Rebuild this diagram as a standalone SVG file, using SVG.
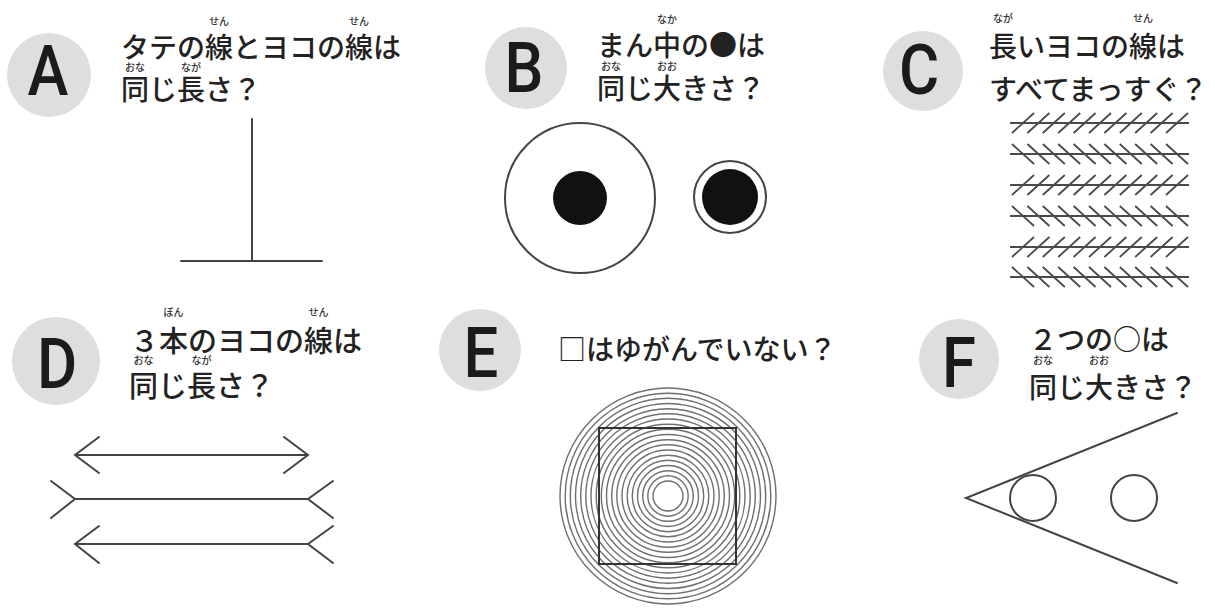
<svg xmlns="http://www.w3.org/2000/svg" width="1215" height="608" viewBox="0 0 1215 608">
<style>
.badge{fill:#dedede}
.letter{font-family:Roboto,"Liberation Sans",sans-serif;font-weight:500;font-size:70px;fill:#1b1b1b;text-anchor:middle}
.q{font-family:"Noto Sans CJK JP",sans-serif;font-weight:500;font-size:28px;fill:#222}
.ruby{font-family:"Noto Sans CJK JP",sans-serif;font-weight:500;font-size:10px;fill:#333;text-anchor:middle}
.ln{stroke:#444;stroke-width:2;fill:none;stroke-linecap:round}
.hz{stroke:#4a4a4a;stroke-width:2;fill:none}
.ht{stroke:#4a4a4a;stroke-width:1.8;fill:none}
.ring{stroke:#6f6f6f;stroke-width:1.4;fill:none}
</style>
<rect width="1215" height="608" fill="#fff"/>

<g id="panel-A">
  <circle class="badge" cx="49" cy="75" r="42"/>
  <text class="letter" transform="translate(48,95) scale(0.88,1)">A</text>
  <text class="ruby" x="219" y="25">せん</text>
  <text class="ruby" x="359" y="25">せん</text>
  <text class="q" x="121" y="58">タテの線とヨコの線は</text>
  <text class="ruby" x="135" y="71">おな</text>
  <text class="ruby" x="191" y="71">なが</text>
  <text class="q" x="121" y="100">同じ長さ？</text>
  <line class="ln" x1="252" y1="119" x2="252" y2="261"/>
  <line class="ln" x1="181" y1="261" x2="322" y2="261"/>
</g>

<g id="panel-B">
  <circle class="badge" cx="526" cy="68" r="41"/>
  <text class="letter" transform="translate(524,92) scale(0.88,1)">B</text>
  <text class="ruby" x="667" y="23">なか</text>
  <text class="q" x="597" y="56">まん中の●は</text>
  <text class="ruby" x="611" y="70">おな</text>
  <text class="ruby" x="667" y="70">おお</text>
  <text class="q" x="597" y="99">同じ大きさ？</text>
  <circle class="ln" cx="580" cy="198" r="75"/>
  <circle cx="580" cy="198" r="27" fill="#111"/>
  <circle class="ln" cx="730" cy="197" r="36"/>
  <circle cx="730" cy="197" r="28" fill="#111"/>
</g>

<g id="panel-C">
  <circle class="badge" cx="923" cy="71" r="40"/>
  <text class="letter" transform="translate(919,94) scale(0.88,1)">C</text>
  <text class="ruby" x="1003" y="22">なが</text>
  <text class="ruby" x="1143" y="22">せん</text>
  <text class="q" x="989" y="57">長いヨコの線は</text>
  <text class="q" x="989" y="100">すべてまっすぐ？</text>
  <g id="zollner">
    <path class="hz" d="M1010 123H1189M1010 154H1189M1010 185H1189M1010 216H1189M1010 247H1189M1010 277H1189"/>
    <path class="ht" d="M1012 133l22 -20M1027.4 133l22 -20M1042.8 133l22 -20M1058.2 133l22 -20M1073.6 133l22 -20M1089 133l22 -20M1104.4 133l22 -20M1119.8 133l22 -20M1135.2 133l22 -20M1150.6 133l22 -20M1166 133l22 -20"/>
    <path class="ht" d="M1012 144l22 20M1027.4 144l22 20M1042.8 144l22 20M1058.2 144l22 20M1073.6 144l22 20M1089 144l22 20M1104.4 144l22 20M1119.8 144l22 20M1135.2 144l22 20M1150.6 144l22 20M1166 144l22 20"/>
    <path class="ht" d="M1012 195l22 -20M1027.4 195l22 -20M1042.8 195l22 -20M1058.2 195l22 -20M1073.6 195l22 -20M1089 195l22 -20M1104.4 195l22 -20M1119.8 195l22 -20M1135.2 195l22 -20M1150.6 195l22 -20M1166 195l22 -20"/>
    <path class="ht" d="M1012 206l22 20M1027.4 206l22 20M1042.8 206l22 20M1058.2 206l22 20M1073.6 206l22 20M1089 206l22 20M1104.4 206l22 20M1119.8 206l22 20M1135.2 206l22 20M1150.6 206l22 20M1166 206l22 20"/>
    <path class="ht" d="M1012 257l22 -20M1027.4 257l22 -20M1042.8 257l22 -20M1058.2 257l22 -20M1073.6 257l22 -20M1089 257l22 -20M1104.4 257l22 -20M1119.8 257l22 -20M1135.2 257l22 -20M1150.6 257l22 -20M1166 257l22 -20"/>
    <path class="ht" d="M1012 267l22 20M1027.4 267l22 20M1042.8 267l22 20M1058.2 267l22 20M1073.6 267l22 20M1089 267l22 20M1104.4 267l22 20M1119.8 267l22 20M1135.2 267l22 20M1150.6 267l22 20M1166 267l22 20"/>
  </g>
</g>

<g id="panel-D">
  <circle class="badge" cx="56" cy="361" r="44"/>
  <text class="letter" transform="translate(57,388) scale(0.88,1)">D</text>
  <text class="ruby" x="173.5" y="316">ぼん</text>
  <text class="ruby" x="318.5" y="316">せん</text>
  <text class="q" x="130" y="352" style="font-size:29px">３本のヨコの線は</text>
  <text class="ruby" x="143.5" y="364">おな</text>
  <text class="ruby" x="201.5" y="364">なが</text>
  <text class="q" x="129" y="397" style="font-size:29px">同じ長さ？</text>
  <path class="ln" d="M75 455H308M99 437L75 455L99 473M284 437L308 455L284 473"/>
  <path class="ln" d="M75 499H308M51 481L75 499L51 518M333 481L308 499L333 518"/>
  <path class="ln" d="M75 544H308M99 526L75 544L99 563M333 526L308 544L333 563"/>
</g>

<g id="panel-E">
  <circle class="badge" cx="480" cy="350" r="41"/>
  <text class="letter" transform="translate(481,377) scale(0.88,1)">E</text>
  <text class="q" x="558" y="360">□はゆがんでいない？</text>
  <g id="rings">
    <circle class="ring" cx="668" cy="496" r="15"/>
    <circle class="ring" cx="668" cy="496" r="20.2"/>
    <circle class="ring" cx="668" cy="496" r="25.3"/>
    <circle class="ring" cx="668" cy="496" r="30.5"/>
    <circle class="ring" cx="668" cy="496" r="35.7"/>
    <circle class="ring" cx="668" cy="496" r="40.8"/>
    <circle class="ring" cx="668" cy="496" r="46"/>
    <circle class="ring" cx="668" cy="496" r="51.2"/>
    <circle class="ring" cx="668" cy="496" r="56.3"/>
    <circle class="ring" cx="668" cy="496" r="61.5"/>
    <circle class="ring" cx="668" cy="496" r="66.7"/>
    <circle class="ring" cx="668" cy="496" r="71.8"/>
    <circle class="ring" cx="668" cy="496" r="77"/>
    <circle class="ring" cx="668" cy="496" r="82.2"/>
    <circle class="ring" cx="668" cy="496" r="87.3"/>
    <circle class="ring" cx="668" cy="496" r="92.5"/>
    <circle class="ring" cx="668" cy="496" r="97.7"/>
    <circle class="ring" cx="668" cy="496" r="102.8"/>
    <circle class="ring" cx="668" cy="496" r="108"/>
  </g>
  <rect x="599" y="428" width="137" height="136" fill="none" stroke="#333" stroke-width="2"/>
</g>

<g id="panel-F">
  <circle class="badge" cx="959" cy="359" r="40"/>
  <text class="letter" transform="translate(959,387) scale(0.88,1)">F</text>
  <text class="q" x="1029" y="350">２つの○は</text>
  <text class="ruby" x="1043" y="364">おな</text>
  <text class="ruby" x="1099" y="364">おお</text>
  <text class="q" x="1029" y="398">同じ大きさ？</text>
  <path class="ln" d="M1177 413L966 498L1177 583"/>
  <circle class="ln" cx="1033" cy="498" r="23"/>
  <circle class="ln" cx="1134" cy="498" r="23"/>
</g>
</svg>
